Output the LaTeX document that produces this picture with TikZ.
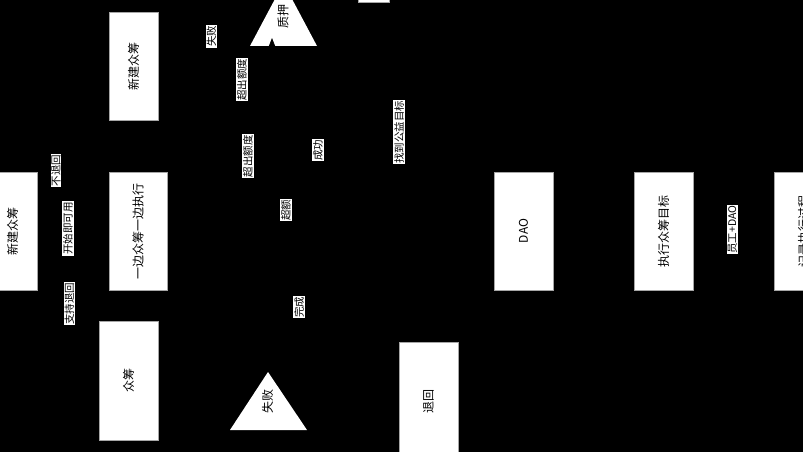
\documentclass[tikz,border=0pt]{standalone}
\usepackage{fontspec}
\usepackage{graphicx}
\setmainfont{Noto Sans CJK SC}
\usetikzlibrary{arrows.meta}
\begin{document}
\begin{tikzpicture}[x=1pt,y=-1pt,
  box/.style={draw=gray!70,line width=0.6pt,fill=white,inner sep=0pt,font=\fontsize{12}{12}\selectfont},
  lbl/.style={fill=white,inner sep=0.8pt,font=\fontsize{10.5}{10.5}\selectfont},
  tri/.style={fill=white},
  tritext/.style={inner sep=0pt,font=\fontsize{12}{12}\selectfont}]
\fill[black] (0,0) rectangle (803,452);
\useasboundingbox (0,0) rectangle (803,452);
% boxes
\node[box,minimum width=49pt,minimum height=108pt] (newTop) at (133.5,66) {\rotatebox{90}{新建众筹}};
\node[box,minimum width=49pt,minimum height=118pt] (newLeft) at (12.5,231) {\rotatebox{90}{新建众筹}};
\node[box,minimum width=58pt,minimum height=118pt] (parallel) at (138,231) {\rotatebox{90}{一边众筹一边执行}};
\node[box,minimum width=59pt,minimum height=119pt] (crowd) at (128.5,380.5) {\rotatebox{90}{众筹}};
\node[box,minimum width=59pt,minimum height=119pt] (refund) at (428.5,401.5) {\rotatebox{90}{退回}};
\node[box,minimum width=59pt,minimum height=118pt] (dao) at (523.5,231) {\rotatebox{90}{DAO}};
\node[box,minimum width=59pt,minimum height=118pt] (exec) at (663.5,231) {\rotatebox{90}{执行众筹目标}};
\node[box,minimum width=59pt,minimum height=118pt] (record) at (803.5,231) {\rotatebox{90}{记录执行过程}};
\node[box,minimum width=31pt,minimum height=24pt] (topbox) at (373.5,-10) {};
% triangles
\fill[tri] (250,46) -- (283.5,-17) -- (317,46) -- cycle;
\node[tritext] (pledge) at (283,16.5) {\rotatebox{90}{质押}};
\fill[tri] (230,430) -- (268,372) -- (307,430) -- cycle;
\node[tritext] (fail) at (267.5,401.5) {\rotatebox{90}{失败}};
% connector ending at pledge triangle
\coordinate (pledgeIn) at (272,90);
\coordinate (pledgeTip) at (272,38);
\draw[black,line width=0.8pt,-{Triangle[width=6pt,length=8pt]}] (pledgeIn) -- (pledgeTip);
% labels
\node[lbl] (l1) at (211.5,36.5) {\rotatebox{90}{失败}};
\node[lbl] (l2) at (242,79.5) {\rotatebox{90}{超出额度}};
\node[lbl] (l3) at (248,156) {\rotatebox{90}{超出额度}};
\node[lbl] (l4) at (318,150) {\rotatebox{90}{成功}};
\node[lbl] (l5) at (286,210) {\rotatebox{90}{超额}};
\node[lbl] (l6) at (399,132) {\rotatebox{90}{找到公益目标}};
\node[lbl] (l7) at (56,170.5) {\rotatebox{90}{不退回}};
\node[lbl] (l8) at (68,228.5) {\rotatebox{90}{开始即可用}};
\node[lbl] (l9) at (69.5,303.5) {\rotatebox{90}{支持退回}};
\node[lbl] (l10) at (299,307) {\rotatebox{90}{完成}};
\node[lbl] (l11) at (732.5,229.5) {\rotatebox{90}{员工+DAO}};
\end{tikzpicture}
\end{document}
